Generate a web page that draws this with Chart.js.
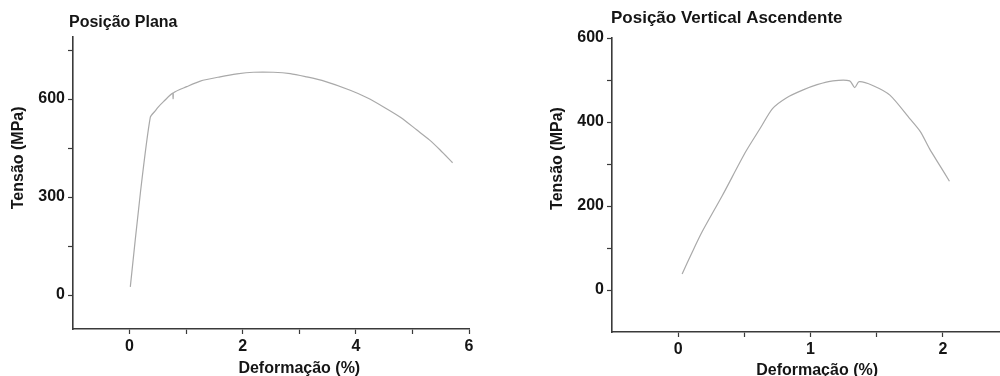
<!DOCTYPE html>
<html>
<head>
<meta charset="utf-8">
<script src="https://cdn.jsdelivr.net/npm/chart.js@4.4.1/dist/chart.umd.min.js"></script>
<style>
  html, body { margin: 0; padding: 0; background: #fff; overflow: hidden; }
  .panel { position: absolute; top: 0; height: 376px; }
  #p-plana { left: 0; width: 500px; }
  #p-vert { left: 500px; width: 520px; }
</style>
</head>
<body>
<div class="panel" id="p-plana"><canvas id="chart-plana" width="500" height="376"></canvas></div>
<div class="panel" id="p-vert"><canvas id="chart-vert" width="520" height="376"></canvas></div>
<script>
'use strict';

// Posição Plana: deformação (%) x tensão (MPa)
const PLANA_X = [0.013, 0.19, 0.366, 0.45, 0.51, 0.60, 0.765, 0.77, 0.775, 1.01, 1.25, 1.60, 1.90, 2.19, 2.54, 2.84, 3.13, 3.40, 3.90, 4.20, 4.49, 4.80, 5.08, 5.30, 5.49, 5.71];
const PLANA_Y = [25, 311, 544, 563, 576, 592, 618, 601, 619, 638, 655, 668, 677, 682, 682, 678, 668, 657, 627, 604, 576, 543, 505, 475, 444, 405];
const PLANA_XTICKS = [0, 1, 2, 3, 4, 5, 6];
const PLANA_XLABELS = [0, 2, 4, 6];
const PLANA_YTICKS = [0, 150, 300, 450, 600, 750];
const PLANA_YLABELS = [0, 300, 600];

// Posição Vertical Ascendente
const VERT_X = [0.03, 0.106, 0.18, 0.334, 0.51, 0.62, 0.713, 0.82, 0.94, 1.05, 1.17, 1.296, 1.334, 1.367, 1.47, 1.60, 1.75, 1.83, 1.90, 1.98, 2.05];
const VERT_Y = [38, 90, 138, 225, 329, 385, 432, 458, 476, 489, 498, 498, 482, 496, 487, 464, 408, 377, 336, 295, 259];
const VERT_XTICKS = [0, 0.5, 1, 1.5, 2, 2.5];
const VERT_XLABELS = [0, 1, 2];
const VERT_YTICKS = [0, 100, 200, 300, 400, 500, 600];
const VERT_YLABELS = [0, 200, 400, 600];

const FONT = '"Liberation Sans", Arial, sans-serif';
const TEXT = '#151515';
const AXIS = '#3a3a3a';
const CURVE = '#a9a9a9';

const textLabels = {
  id: 'textLabels',
  afterDraw(chart, args, o) {
    const { ctx, chartArea, scales } = chart;
    ctx.save();
    ctx.fillStyle = TEXT;
    ctx.font = `bold ${o.titleSize}px ${FONT}`;
    ctx.textAlign = 'left';
    ctx.textBaseline = 'alphabetic';
    ctx.fillText(o.title, chartArea.left + o.titleDx, o.titleY);
    ctx.font = `bold 16px ${FONT}`;
    ctx.textAlign = 'center';
    ctx.fillText(o.xTitle, scales.x.getPixelForValue(o.xTitleAt), o.xTitleY);
    ctx.translate(o.yTitleX, scales.y.getPixelForValue(o.yTitleAt));
    ctx.rotate(-Math.PI / 2);
    ctx.textBaseline = 'middle';
    ctx.fillText(o.yTitle, 0, 0);
    ctx.restore();
  }
};

function axis(min, max, ticks, labels, size, vertical) {
  return {
    type: 'linear',
    min, max,
    border: { color: AXIS, width: 1.6 },
    grid: { drawOnChartArea: false, drawTicks: true, tickLength: 5, tickColor: AXIS, tickWidth: 1.2 },
    ticks: {
      color: TEXT,
      padding: 3,
      autoSkip: false,
      maxRotation: 0,
      font: { family: FONT, size: 16, weight: 'bold' },
      callback: (v) => labels.includes(v) ? String(v) : ''
    },
    afterBuildTicks: (s) => { s.ticks = ticks.map((v) => ({ value: v })); },
    afterFit: (s) => {
      if (vertical) { s.width = size; s.paddingTop = 0; s.paddingBottom = 0; }
      else { s.height = size; s.paddingLeft = 0; s.paddingRight = 0; }
    }
  };
}

function makeChart(id, xs, ys, cfg) {
  new Chart(document.getElementById(id), {
    type: 'scatter',
    data: {
      datasets: [{
        data: xs.map((x, i) => ({ x, y: ys[i] })),
        showLine: true,
        borderColor: CURVE,
        borderWidth: 1.2,
        pointRadius: 0,
        tension: 0.25
      }]
    },
    options: {
      responsive: false,
      animation: false,
      devicePixelRatio: 1,
      layout: { padding: cfg.padding },
      plugins: { legend: { display: false }, tooltip: { enabled: false }, textLabels: cfg.text },
      scales: {
        x: axis(cfg.xMin, cfg.xMax, cfg.xTicks, cfg.xLabels, cfg.xHeight, false),
        y: axis(cfg.yMin, cfg.yMax, cfg.yTicks, cfg.yLabels, 60, true)
      }
    },
    plugins: [textLabels]
  });
}

makeChart('chart-plana', PLANA_X, PLANA_Y, {
  padding: { left: 13, right: 31, top: 37, bottom: 0 },
  xMin: -1, xMax: 6, xTicks: PLANA_XTICKS, xLabels: PLANA_XLABELS, xHeight: 47,
  yMin: -104, yMax: 790, yTicks: PLANA_YTICKS, yLabels: PLANA_YLABELS,
  text: {
    title: 'Posição Plana', titleSize: 16, titleDx: -4, titleY: 27,
    xTitle: 'Deformação (%)', xTitleAt: 3.0, xTitleY: 373,
    yTitle: 'Tensão (MPa)', yTitleAt: 420, yTitleX: 19
  }
});

makeChart('chart-vert', VERT_X, VERT_Y, {
  padding: { left: 52, right: 11, top: 38, bottom: 0 },
  xMin: -0.5, xMax: 2.5, xTicks: VERT_XTICKS, xLabels: VERT_XLABELS, xHeight: 44,
  yMin: -100, yMax: 600, yTicks: VERT_YTICKS, yLabels: VERT_YLABELS,
  text: {
    title: 'Posição Vertical Ascendente', titleSize: 17, titleDx: -1, titleY: 23,
    xTitle: 'Deformação (%)', xTitleAt: 1.05, xTitleY: 375,
    yTitle: 'Tensão (MPa)', yTitleAt: 313, yTitleX: 58
  }
});
</script>
</body>
</html>
